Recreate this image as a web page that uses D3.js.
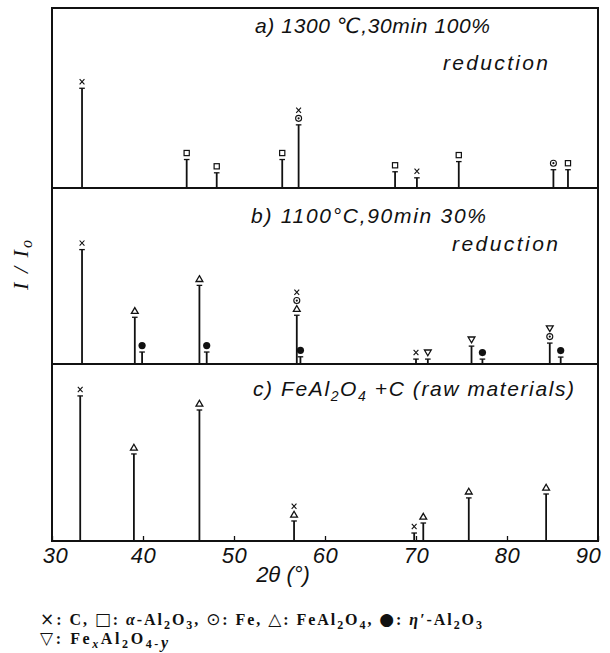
<!DOCTYPE html>
<html>
<head>
<meta charset="utf-8">
<script src="https://cdn.jsdelivr.net/npm/d3@7"></script>
<style>
  html, body { margin: 0; padding: 0; background: #fff; }
  svg { display: block; }
  .lettering { font-family: "Liberation Sans", "DejaVu Sans", sans-serif; font-style: italic; fill: #111; }
  .legend { font-family: "Liberation Serif", "DejaVu Serif", serif; font-weight: bold; fill: #111; }
  .sym { font-family: "DejaVu Sans", sans-serif; font-weight: normal; font-style: normal; }
</style>
</head>
<body>
<svg id="chart" width="610" height="653"></svg>
<script>
// ---- data: diffraction peaks (2θ in degrees, relative intensity, phases from bottom up) ----
const xTicks = [30, 40, 50, 60, 70, 80, 90];

// a) 1300 °C, 30 min, 100 % reduction
const peaksA_2theta = [33.3, 44.8, 48.1, 55.3, 57.1, 67.7, 70.1, 74.7, 85.1, 86.7];
const peaksA_int    = [67.6, 19.3, 10.3, 19.3, 42.8, 11.0, 6.9, 17.9, 12.4, 12.4];
const peaksA_phase  = [["C"], ["A"], ["A"], ["A"], ["Fe", "C"], ["A"], ["C"], ["A"], ["Fe"], ["A"]];

// b) 1100 °C, 90 min, 30 % reduction
const peaksB_2theta = [33.3, 39.1, 39.9, 46.2, 47.0, 56.9, 57.3, 70.0, 71.3, 76.1, 77.3, 84.7, 85.9];
const peaksB_int    = [79.3, 32.4, 8.3, 54.5, 8.3, 33.8, 5.0, 3.4, 3.4, 12.4, 3.4, 14.5, 4.8];
const peaksB_phase  = [["C"], ["S"], ["E"], ["S"], ["E"], ["S", "Fe", "C"], ["E"], ["C"], ["V"], ["V"], ["E"], ["Fe", "V"], ["E"]];

// c) FeAl2O4 + C raw materials
const peaksC_2theta = [33.1, 39.0, 46.2, 56.6, 69.8, 70.8, 75.8, 84.3];
const peaksC_int    = [100, 60.0, 90.3, 13.8, 5.5, 12.4, 29.7, 32.4];
const peaksC_phase  = [["C"], ["S"], ["S"], ["S", "C"], ["C"], ["S"], ["S"], ["S"]];

const svg = d3.select("#chart");

const left = 52, right = 598;
const panelBox = [
  { top: 8,   bottom: 188 },
  { top: 188, bottom: 364 },
  { top: 364, bottom: 541 }
];
const x = d3.scaleLinear().domain([30, 90]).range([left, right]);
const intensityMax = 122;

const panels = [
  { xs: peaksA_2theta, ys: peaksA_int, ph: peaksA_phase },
  { xs: peaksB_2theta, ys: peaksB_int, ph: peaksB_phase },
  { xs: peaksC_2theta, ys: peaksC_int, ph: peaksC_phase }
];

// phase symbols
function drawSymbol(g, type, cx, cy) {
  const s = g.append("g").attr("transform", `translate(${cx},${cy})`);
  if (type === "C") {
    s.append("path").attr("d", "M-2.4,-2.6L2.4,2.6M-2.4,2.6L2.4,-2.6")
      .attr("stroke", "#111").attr("stroke-width", 1.1).attr("fill", "none");
  } else if (type === "A") {
    s.append("rect").attr("x", -2.6).attr("y", -2.6).attr("width", 5.2).attr("height", 5.2)
      .attr("stroke", "#111").attr("stroke-width", 1.2).attr("fill", "#fff");
  } else if (type === "Fe") {
    s.append("circle").attr("r", 3).attr("stroke", "#111").attr("stroke-width", 1.1).attr("fill", "#fff");
    s.append("circle").attr("r", 1.1).attr("fill", "#111");
  } else if (type === "S") {
    s.append("path").attr("d", "M0,-3.2L3.4,2.6L-3.4,2.6Z")
      .attr("stroke", "#111").attr("stroke-width", 1.3).attr("fill", "#fff");
  } else if (type === "V") {
    s.append("path").attr("d", "M0,3.2L3.4,-2.6L-3.4,-2.6Z")
      .attr("stroke", "#111").attr("stroke-width", 1.3).attr("fill", "#fff");
  } else if (type === "E") {
    s.append("circle").attr("r", 3.6).attr("fill", "#111");
  }
}

panels.forEach((p, i) => {
  const box = panelBox[i];
  const y = d3.scaleLinear().domain([0, intensityMax]).range([box.bottom, box.top]);
  const g = svg.append("g");
  p.xs.forEach((tt, k) => {
    const px = x(tt), top = y(p.ys[k]);
    g.append("line").attr("x1", px).attr("x2", px).attr("y1", y(0)).attr("y2", top)
      .attr("stroke", "#111").attr("stroke-width", 1.8);
    g.append("line").attr("x1", px - 2.8).attr("x2", px + 2.8).attr("y1", top).attr("y2", top)
      .attr("stroke", "#111").attr("stroke-width", 1.3);
    p.ph[k].forEach((type, j) => drawSymbol(g, type, px, top - 6.5 - j * 8.2));
  });
});

// frame and panel dividers
svg.append("rect").attr("x", left).attr("y", panelBox[0].top)
  .attr("width", right - left).attr("height", panelBox[2].bottom - panelBox[0].top)
  .attr("fill", "none").attr("stroke", "#111").attr("stroke-width", 2);
[panelBox[0].bottom, panelBox[1].bottom].forEach(yy => {
  svg.append("line").attr("x1", left).attr("x2", right).attr("y1", yy).attr("y2", yy)
    .attr("stroke", "#111").attr("stroke-width", 2);
});

// bottom axis with inward ticks
const axis = d3.axisBottom(x).tickValues(xTicks).tickSizeInner(-5).tickSizeOuter(0).tickPadding(6)
  .tickFormat(d3.format("d"));
const ax = svg.append("g").attr("transform", `translate(0,${panelBox[2].bottom})`).call(axis);
ax.select(".domain").remove();
ax.selectAll(".tick line").attr("stroke", "#111").attr("stroke-width", 1.3);
ax.selectAll(".tick text").attr("class", "lettering").attr("font-size", 22)
  .attr("letter-spacing", 0.5).attr("dy", "0.71em")
  .attr("dx", d => d === 30 ? 3 : d === 90 ? -10 : 0)
  .style("font-family", "'Liberation Sans', sans-serif").style("font-style", "italic");

// x-axis title
svg.append("text").attr("class", "lettering").attr("x", 283).attr("y", 582)
  .attr("text-anchor", "middle").attr("font-size", 22).text("2θ (°)");

// y-axis title
const yl = svg.append("text").attr("transform", "translate(28,290) rotate(-90)")
  .style("font-family", "'Liberation Serif', serif").style("font-style", "italic")
  .attr("font-size", 22).attr("fill", "#111").attr("textLength", 50).attr("lengthAdjust", "spacing");
yl.append("tspan").text("I / I");
yl.append("tspan").attr("font-size", 16).attr("dy", 4).text("o");

// panel titles
const t = (xx, yy, len, txt) => svg.append("text").attr("class", "lettering")
  .attr("x", xx).attr("y", yy).attr("font-size", 21)
  .attr("textLength", len).attr("lengthAdjust", "spacing").text(txt);
t(255, 33, 235, "a) 1300 ℃,30min 100%");
t(443, 70, 105, "reduction");
t(251, 223, 235, "b) 1100°C,90min 30%");
t(452, 251, 106, "reduction");
const tc = svg.append("text").attr("class", "lettering").attr("x", 253).attr("y", 396).attr("font-size", 21)
  .attr("textLength", 321).attr("lengthAdjust", "spacing");
tc.append("tspan").text("c) FeAl");
tc.append("tspan").attr("font-size", 14).attr("dy", 5).text("2");
tc.append("tspan").attr("dy", -5).text("O");
tc.append("tspan").attr("font-size", 14).attr("dy", 5).text("4");
tc.append("tspan").attr("dy", -5).text(" +C (raw materials)");

// legend
function legendLine(yy, len, parts) {
  const tx = svg.append("text").attr("class", "legend").attr("x", 40).attr("y", yy).attr("font-size", 16);
  if (len) tx.attr("textLength", len).attr("lengthAdjust", "spacing");
  parts.forEach(pt => {
    const sp = tx.append("tspan").text(pt.t);
    if (pt.sub) sp.attr("font-size", 12).attr("dy", 4);
    if (pt.up) sp.attr("dy", -4);
    if (pt.it) sp.style("font-style", "italic");
    if (pt.sym) sp.attr("class", "sym").attr("font-size", 17);
  });
}
legendLine(625, 442, [
  { t: "×", sym: true }, { t: ": C, " }, { t: "□", sym: true }, { t: ": " },
  { t: "α", it: true }, { t: "-Al" }, { t: "2", sub: true }, { t: "O", up: true }, { t: "3", sub: true },
  { t: ", ", up: true }, { t: "⊙", sym: true }, { t: ": Fe, " }, { t: "△", sym: true }, { t: ": FeAl" },
  { t: "2", sub: true }, { t: "O", up: true }, { t: "4", sub: true },
  { t: ", ", up: true }, { t: "●", sym: true }, { t: ": " }, { t: "η′", it: true }, { t: "-Al" },
  { t: "2", sub: true }, { t: "O", up: true }, { t: "3", sub: true }
]);
legendLine(644, 128, [
  { t: "▽", sym: true }, { t: ": Fe" }, { t: "x", sub: true, it: true }, { t: "Al", up: true }, { t: "2", sub: true },
  { t: "O", up: true }, { t: "4-", sub: true }, { t: "y", it: true }
]);
</script>
</body>
</html>
